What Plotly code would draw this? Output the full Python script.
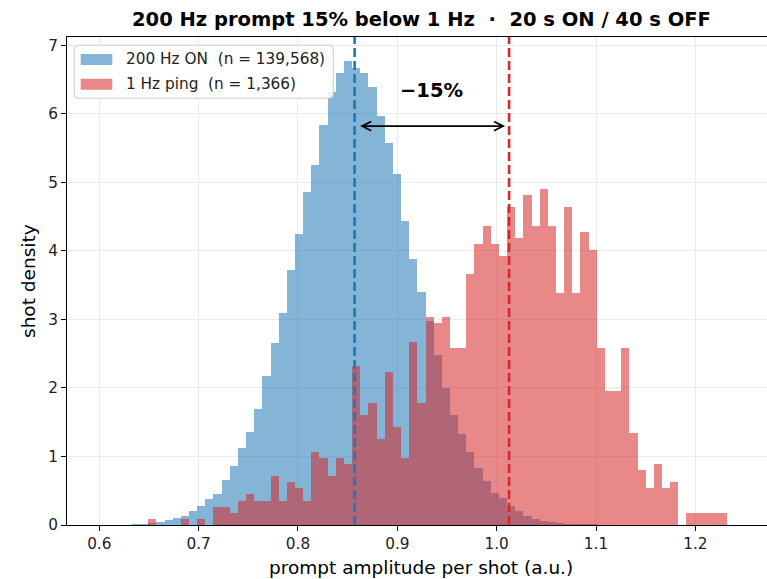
import numpy as np
import plotly.graph_objects as go

# Shared amplitude bins for both histograms
bin_start = 0.600
bin_stop = 1.2321
n_bins = 77

# 200 Hz ON shots: probability density in each bin
on_density = [0.001, 0.002, 0.003, 0.006, 0.010, 0.018, 0.030, 0.045, 0.068, 0.105,
              0.136, 0.21, 0.28, 0.38, 0.45, 0.65, 0.86, 1.13, 1.35, 1.69,
              2.17, 2.66, 3.10, 3.72, 4.25, 4.86, 5.25, 5.83, 6.32, 6.59,
              6.77, 6.67, 6.59, 6.39, 5.97, 5.57, 5.12, 4.44, 3.88, 3.40,
              2.98, 2.48, 2.00, 1.61, 1.33, 1.07, 0.83, 0.64, 0.46, 0.39,
              0.28, 0.20, 0.136, 0.09, 0.06, 0.04, 0.03, 0.02, 0.015, 0.011,
              0.008, 0.006, 0.004, 0.003, 0.002, 0.0015, 0.001, 0.001, 0.0007, 0.0005,
              0.0004, 0.0003, 0.0002, 0.0002, 0.0001, 0.0001, 0.0001]
n_on = 139568

# 1 Hz ping shots: raw counts in each bin
ping_counts = [0, 0, 0, 0, 0, 0, 1, 0, 0, 0,
               1, 0, 1, 0, 3, 3, 2, 4, 5, 4,
               4, 8, 4, 7, 6, 4, 12, 11, 8, 11,
               10, 26, 18, 20, 14, 25, 16, 11, 30, 20,
               34, 33, 34, 29, 29, 41, 46, 49, 46, 44,
               52, 47, 54, 49, 55, 49, 38, 52, 38, 48,
               45, 29, 22, 22, 29, 15, 9, 6, 10, 6,
               7, 0, 2, 2, 2, 2, 2]

# Mean prompt amplitude of each population
on_mean = 0.857
ping_mean = 1.0125

x_ticks = [0.6, 0.7, 0.8, 0.9, 1.0, 1.1, 1.2]
y_ticks = [0, 1, 2, 3, 4, 5, 6, 7]

edges = np.linspace(bin_start, bin_stop, n_bins + 1)
centers = 0.5 * (edges[:-1] + edges[1:])
width = edges[1] - edges[0]
n_ping = int(sum(ping_counts))
ping_density = np.array(ping_counts) / (n_ping * width)

BLUE = "rgba(31,119,180,0.55)"
RED = "rgba(214,39,40,0.55)"
FONT = "DejaVu Sans"

fig = go.Figure()
fig.add_trace(go.Bar(x=centers, y=on_density, width=width,
                     marker=dict(color=BLUE, line=dict(width=0)),
                     name=f"200 Hz ON  (n = {n_on:,})"))
fig.add_trace(go.Bar(x=centers, y=ping_density, width=width,
                     marker=dict(color=RED, line=dict(width=0)),
                     name=f"1 Hz ping  (n = {n_ping:,})"))

# Mean markers
for xm, col in [(on_mean, "#1f77b4"), (ping_mean, "#d62728")]:
    fig.add_shape(type="line", xref="x", yref="paper", x0=xm, x1=xm, y0=0, y1=1,
                  line=dict(color=col, width=2.6, dash="9px,4px"), layer="above")

# Double arrow between the means and the relative shift
arrow_y = 5.82
pct = (on_mean / ping_mean - 1.0) * 100.0
fig.add_annotation(x=ping_mean - 0.004, y=arrow_y, ax=on_mean + 0.004, ay=arrow_y,
                   xref="x", yref="y", axref="x", ayref="y", text="",
                   showarrow=True, arrowside="end+start", arrowhead=5, startarrowhead=5,
                   arrowsize=1.0, startarrowsize=1.0, arrowwidth=1.8, arrowcolor="black",
                   standoff=0, startstandoff=0)
fig.add_annotation(x=0.5 * (on_mean + ping_mean), y=6.34, xref="x", yref="y",
                   text=f"<b>\u2212{abs(pct):.0f}%</b>", showarrow=False,
                   font=dict(family=FONT, size=19.5, color="black"))

# Legend box (upper left)
lx0, lx1, ly0, ly1 = 0.0104, 0.3804, 0.8747, 0.9832
rx, ry = 4 / 700, 4 / 488
box = (f"M{lx0+rx},{ly0} L{lx1-rx},{ly0} Q{lx1},{ly0} {lx1},{ly0+ry} "
       f"L{lx1},{ly1-ry} Q{lx1},{ly1} {lx1-rx},{ly1} L{lx0+rx},{ly1} "
       f"Q{lx0},{ly1} {lx0},{ly1-ry} L{lx0},{ly0+ry} Q{lx0},{ly0} {lx0+rx},{ly0} Z")
fig.add_shape(type="path", xref="paper", yref="paper", path=box,
              fillcolor="rgba(255,255,255,0.85)", line=dict(color="#cccccc", width=1),
              layer="above")
for tr, yc in zip(fig.data, [0.9540, 0.9034]):
    fig.add_shape(type="rect", xref="paper", yref="paper",
                  x0=0.0196, x1=0.0647, y0=yc - 0.0113, y1=yc + 0.0113,
                  fillcolor=tr.marker.color, line=dict(width=0), layer="above")
    fig.add_annotation(x=0.0819, y=yc, xref="paper", yref="paper", text=tr.name,
                       xanchor="left", yanchor="middle", showarrow=False,
                       font=dict(family=FONT, size=15.3, color="#222222"))

# Title and axis labels
fig.add_annotation(x=0.5064, y=1.0364, xref="paper", yref="paper",
                   text="<b>200 Hz prompt 15% below 1 Hz \u00a0\u00b7\u00a0 20 s ON / 40 s OFF</b>",
                   showarrow=False, xanchor="center", yanchor="middle",
                   font=dict(family=FONT, size=19.5, color="black"))
fig.add_annotation(x=0.5057, y=-0.0874, xref="paper", yref="paper",
                   text="prompt amplitude per shot (a.u.)", showarrow=False,
                   xanchor="center", yanchor="middle",
                   font=dict(family=FONT, size=18.5, color="black"))
fig.add_annotation(x=-0.0557, y=0.5, xref="paper", yref="paper",
                   text="shot density", showarrow=False, textangle=-90,
                   xanchor="center", yanchor="middle",
                   font=dict(family=FONT, size=18.5, color="black"))

axis_common = dict(ticks="outside", ticklen=5, tickwidth=1.1, tickcolor="black",
                   showline=True, linecolor="black", linewidth=1.1,
                   showgrid=True, gridcolor="#ebebeb", gridwidth=0.8,
                   zeroline=False, tickfont=dict(family=FONT, size=15.3, color="#222222"))

fig.update_xaxes(range=[0.5675, 1.2721], tickvals=x_ticks,
                 ticktext=[f"{v:.1f}" for v in x_ticks], mirror=True, **axis_common)
fig.update_yaxes(range=[0, 7.12], tickvals=y_ticks,
                 ticktext=[str(v) for v in y_ticks], mirror=False, **axis_common)

fig.update_layout(width=767, height=579, margin=dict(l=67, r=0, t=37, b=54),
                  plot_bgcolor="white", paper_bgcolor="white",
                  barmode="overlay", bargap=0, showlegend=False,
                  font=dict(family=FONT, color="black"))

fig.write_html("out.html")
